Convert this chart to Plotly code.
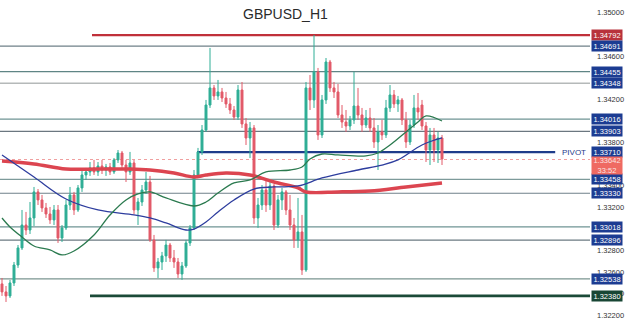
import plotly.graph_objects as go

title = "GBPUSD_H1"

opens = [1.32491, 1.32417, 1.3238, 1.325, 1.32666, 1.32824, 1.33036, 1.3299, 1.33101, 1.33342,
         1.33268, 1.33194, 1.33138, 1.33083, 1.33175, 1.32916, 1.33009, 1.33221, 1.33314, 1.33175,
         1.33379, 1.33499, 1.33527, 1.33564, 1.33527, 1.33582, 1.33545, 1.33573, 1.33527, 1.33638,
         1.33702, 1.33591, 1.33527, 1.3361, 1.33175, 1.33249, 1.3336, 1.33434, 1.32898, 1.32639,
         1.32694, 1.3275, 1.32851, 1.32731, 1.32694, 1.32583, 1.32657, 1.3287, 1.33009, 1.33499,
         1.33712, 1.33915, 1.34146, 1.34304, 1.3423, 1.34267, 1.34211, 1.34156, 1.341, 1.34035,
         1.34285, 1.33971, 1.33841, 1.33934, 1.33101, 1.33221, 1.3336, 1.33221, 1.33397, 1.33036,
         1.33268, 1.33342, 1.33175, 1.33036, 1.32898, 1.32972, 1.3262, 1.34304, 1.34193, 1.34452,
         1.33869, 1.34193, 1.34544, 1.34304, 1.34267, 1.34054, 1.33989, 1.33952, 1.34008, 1.34137,
         1.34054, 1.33961, 1.34026, 1.33934, 1.33804, 1.33897, 1.33869, 1.34119, 1.34239, 1.34156,
         1.34193, 1.34008, 1.33804, 1.33961, 1.34119, 1.34146, 1.33952, 1.3373, 1.33869, 1.3373,
         1.33841]
highs = [1.32546, 1.32472, 1.32528, 1.32694, 1.32851, 1.33175, 1.33157, 1.33249, 1.33388, 1.33369,
         1.33314, 1.3324, 1.33203, 1.33221, 1.33221, 1.33036, 1.33268, 1.33388, 1.33342, 1.33406,
         1.33545, 1.33564, 1.33619, 1.33638, 1.33619, 1.33638, 1.33601, 1.3361, 1.33656, 1.3373,
         1.33721, 1.33638, 1.33712, 1.33638, 1.33286, 1.33406, 1.33527, 1.3349, 1.32944, 1.32731,
         1.32787, 1.32898, 1.3287, 1.32805, 1.32731, 1.32694, 1.32898, 1.33036, 1.33545, 1.33749,
         1.33961, 1.34193, 1.34674, 1.34331, 1.34378, 1.34304, 1.34267, 1.34211, 1.34137, 1.34331,
         1.34359, 1.34026, 1.33989, 1.33961, 1.33286, 1.33406, 1.33453, 1.33434, 1.33416, 1.33314,
         1.33379, 1.3336, 1.33314, 1.33101, 1.33286, 1.33129, 1.34359, 1.34424, 1.34794, 1.34489,
         1.34239, 1.34581, 1.34563, 1.34359, 1.34341, 1.34146, 1.341, 1.34045, 1.34452, 1.34304,
         1.34119, 1.341, 1.34119, 1.34026, 1.33961, 1.34008, 1.34193, 1.34331, 1.34285, 1.3423,
         1.34211, 1.34082, 1.34008, 1.34239, 1.34257, 1.34193, 1.33989, 1.33934, 1.33934, 1.33897,
         1.33869]
lows = [1.3238, 1.32324, 1.32361, 1.32472, 1.32639, 1.32805, 1.32944, 1.32953, 1.33027, 1.33221,
        1.33157, 1.33101, 1.33046, 1.33036, 1.3287, 1.32879, 1.3299, 1.33175, 1.33129, 1.33157,
        1.33342, 1.33453, 1.3349, 1.33499, 1.3349, 1.33508, 1.3349, 1.33499, 1.33508, 1.3361,
        1.33564, 1.33434, 1.33499, 1.33138, 1.33036, 1.33212, 1.33323, 1.32879, 1.32602, 1.32546,
        1.3262, 1.32694, 1.32694, 1.32639, 1.32546, 1.32528, 1.32639, 1.32842, 1.3299, 1.33471,
        1.33684, 1.33897, 1.34119, 1.34193, 1.34193, 1.34174, 1.34119, 1.34063, 1.34008, 1.34008,
        1.33934, 1.33776, 1.33656, 1.33046, 1.33009, 1.33175, 1.33157, 1.33175, 1.3299, 1.33009,
        1.33175, 1.33129, 1.3299, 1.32824, 1.32824, 1.32574, 1.32602, 1.341, 1.34119, 1.33823,
        1.33841, 1.34156, 1.34267, 1.34211, 1.34026, 1.33934, 1.33897, 1.33915, 1.33971, 1.34008,
        1.33897, 1.33934, 1.33897, 1.33749, 1.33545, 1.33823, 1.33841, 1.34082, 1.34119, 1.34082,
        1.33961, 1.33749, 1.33776, 1.33934, 1.34008, 1.33915, 1.33619, 1.33591, 1.33619, 1.3361,
        1.33591]
closes = [1.32417, 1.3238, 1.325, 1.32666, 1.32824, 1.33036, 1.3299, 1.33101, 1.33342, 1.33268,
          1.33194, 1.33138, 1.33083, 1.33175, 1.32916, 1.33009, 1.33221, 1.33314, 1.33175, 1.33379,
          1.33499, 1.33527, 1.33564, 1.33527, 1.33582, 1.33545, 1.33573, 1.33527, 1.33638, 1.33702,
          1.33591, 1.33527, 1.3361, 1.33175, 1.33249, 1.3336, 1.33434, 1.32898, 1.32639, 1.32694,
          1.3275, 1.32851, 1.32731, 1.32694, 1.32583, 1.32657, 1.3287, 1.33009, 1.33499, 1.33712,
          1.33915, 1.34146, 1.34304, 1.3423, 1.34267, 1.34211, 1.34156, 1.341, 1.34035, 1.34285,
          1.33971, 1.33841, 1.33934, 1.33101, 1.33221, 1.3336, 1.33221, 1.33397, 1.33036, 1.33268,
          1.33342, 1.33175, 1.33036, 1.32898, 1.32972, 1.3262, 1.34304, 1.34193, 1.34452, 1.33869,
          1.34193, 1.34544, 1.34304, 1.34267, 1.34054, 1.33989, 1.33952, 1.34008, 1.34137, 1.34054,
          1.33961, 1.34026, 1.33934, 1.33804, 1.33897, 1.33869, 1.34119, 1.34239, 1.34156, 1.34193,
          1.34008, 1.33804, 1.33961, 1.34119, 1.34082, 1.33952, 1.3373, 1.33869, 1.3373, 1.33841,
          1.33647]
bars = list(range(len(closes)))

ma_red_x = [0, 8, 16, 24, 32, 37, 43, 48, 51, 56, 62, 68, 74, 76, 84, 92, 101, 110]
ma_red = [1.33628, 1.33601, 1.33554, 1.33554, 1.33554, 1.33545, 1.33517, 1.3348, 1.33499,
          1.33517, 1.33499, 1.33434, 1.33379, 1.33342, 1.33342, 1.33351, 1.33388, 1.33425]

ma_blue_x = [0, 8, 16, 24, 33, 37, 41, 46, 48, 51, 54, 58, 63, 68, 74, 80, 89, 95, 99, 105, 110]
ma_blue = [1.33684, 1.3348, 1.33277, 1.33175, 1.33129, 1.33101, 1.33055, 1.3299, 1.32999, 1.33064,
           1.33157, 1.33268, 1.33369, 1.33388, 1.33397, 1.33471, 1.33545, 1.33591, 1.33638, 1.33776,
           1.33841]

ma_green_x = [0, 2, 5, 8, 12, 15, 18, 23, 27, 31, 34, 37, 41, 48, 51, 54, 58, 62, 66, 72, 75,
              77, 80, 84, 91, 94, 97, 101, 104, 106, 110]
ma_green = [1.33101, 1.33018, 1.32925, 1.32842, 1.32805, 1.32759, 1.32796, 1.32944, 1.33129,
            1.33268, 1.33323, 1.33342, 1.33286, 1.33212, 1.33249, 1.33332, 1.33425, 1.33453,
            1.33527, 1.33545, 1.33573, 1.33647, 1.33693, 1.33684, 1.33675, 1.33702, 1.33776,
            1.33897, 1.33989, 1.34045, 1.33998]

levels = [1.34792, 1.34691, 1.34455, 1.34348, 1.34016, 1.33903, 1.33710,
          1.33458, 1.33330, 1.33018, 1.32896, 1.32538, 1.32380]
pivot_level = 1.33710
current_price = 1.33642
countdown = "33:52"
# axis tick labels that are visible (fully or partly) beside the level tags
y_ticks = [1.35000, 1.34600, 1.34200, 1.33800, 1.33400, 1.33200, 1.32800, 1.32600, 1.32400, 1.32200]

# styles
X_MAX = 147.0
line_styles = {
    1.34792: dict(color="#c0303a", width=2.2, start=22.5, end=X_MAX),
    1.34691: dict(color="#6f8088", width=1.2, start=-0.5, end=X_MAX),
    1.34455: dict(color="#5f8585", width=1.2, start=-0.5, end=X_MAX),
    1.34348: dict(color="#b5b9b9", width=1.6, start=-0.5, end=X_MAX),
    1.34016: dict(color="#6f9494", width=1.2, start=-0.5, end=X_MAX),
    1.33903: dict(color="#6b7780", width=1.2, start=-0.5, end=X_MAX),
    1.33710: dict(color="#1f3c8a", width=2.2, start=48.75, end=138.3),
    1.33458: dict(color="#7d9a9a", width=1.2, start=-0.5, end=X_MAX),
    1.33330: dict(color="#6f808a", width=1.2, start=-0.5, end=X_MAX),
    1.33018: dict(color="#6f9494", width=1.2, start=-0.5, end=X_MAX),
    1.32896: dict(color="#6b7a82", width=1.2, start=-0.5, end=X_MAX),
    1.32538: dict(color="#7a9590", width=1.2, start=-0.5, end=X_MAX),
    1.32380: dict(color="#1b4a38", width=2.6, start=22.0, end=X_MAX),
}
label_bg = {1.34792: "#b8323c", 1.32380: "#184634"}
BLUE_BOX = "#1c3c92"
FONT = "Liberation Sans, Arial"

fig = go.Figure()

fig.add_trace(go.Candlestick(
    x=bars, open=opens, high=highs, low=lows, close=closes,
    increasing=dict(line=dict(color="#2fae96", width=1), fillcolor="#2fae96"),
    decreasing=dict(line=dict(color="#e25a68", width=1), fillcolor="#e25a68"),
    whiskerwidth=0, showlegend=False, hoverinfo="skip",
))

fig.add_trace(go.Scatter(x=ma_red_x, y=ma_red, mode="lines",
                         line=dict(color="#dc4550", width=3.5, shape="spline", smoothing=1.0),
                         showlegend=False, hoverinfo="skip"))
fig.add_trace(go.Scatter(x=ma_blue_x, y=ma_blue, mode="lines",
                         line=dict(color="#2d3d9e", width=1.3, shape="spline", smoothing=1.0),
                         showlegend=False, hoverinfo="skip"))
fig.add_trace(go.Scatter(x=ma_green_x, y=ma_green, mode="lines",
                         line=dict(color="#2b7a4f", width=1.3, shape="spline", smoothing=1.0),
                         showlegend=False, hoverinfo="skip"))

shapes = []
for lv in levels:
    st = line_styles[lv]
    shapes.append(dict(type="line", xref="x", yref="y", x0=st["start"], x1=st["end"],
                       y0=lv, y1=lv, line=dict(color=st["color"], width=st["width"]),
                       layer="below"))
shapes.append(dict(type="line", xref="x", yref="y", x0=-0.5, x1=X_MAX,
                   y0=current_price, y1=current_price,
                   line=dict(color="#f0a0a0", width=1, dash="dot"), layer="below"))

annotations = []
PLOT_W = 590.0
label_x = 606.5 / PLOT_W
for lv in levels:
    annotations.append(dict(
        x=label_x, xref="paper", y=lv, yref="y", text=f"{lv:.5f}",
        showarrow=False, xanchor="center", yanchor="middle",
        font=dict(family=FONT, size=7.5, color="white"),
        bgcolor=label_bg.get(lv, BLUE_BOX), width=29, height=9, borderpad=0.5,
    ))
annotations.append(dict(
    x=label_x, xref="paper", y=current_price, yref="y",
    text=f"{current_price:.5f}<br>{countdown}", showarrow=False,
    xanchor="center", yanchor="top", yshift=4,
    font=dict(family=FONT, size=7.5, color="#fbe3e0"),
    bgcolor="#ef6a62", width=29, height=16, borderpad=0.5, align="center",
))
annotations.append(dict(
    x=573.5 / PLOT_W, xref="paper", y=pivot_level, yref="y", text="PIVOT",
    showarrow=False, xanchor="center", yanchor="middle",
    font=dict(family=FONT, size=8, color="#1f3c8a"),
))
annotations.append(dict(
    x=285 / PLOT_W, xref="paper", y=1.0, yref="paper", yanchor="top", yshift=-4,
    text=title, showarrow=False,
    font=dict(family=FONT, size=14, color="#2a2a2a"),
))

fig.update_layout(
    width=625, height=321,
    margin=dict(l=0, r=35, t=0, b=0),
    paper_bgcolor="white", plot_bgcolor="white",
    shapes=shapes, annotations=annotations,
    xaxis=dict(range=[-0.5, X_MAX], visible=False, rangeslider=dict(visible=False),
               fixedrange=True),
    yaxis=dict(range=[1.32148, 1.351175], side="right",
               tickmode="array", tickvals=y_ticks, ticktext=[f"{v:.5f}" for v in y_ticks],
               showgrid=False, zeroline=False, showline=False,
               ticks="", ticklabelstandoff=6,
               tickfont=dict(family=FONT, size=7.5, color="#333333")),
    showlegend=False,
)

fig.write_html("out.html")
